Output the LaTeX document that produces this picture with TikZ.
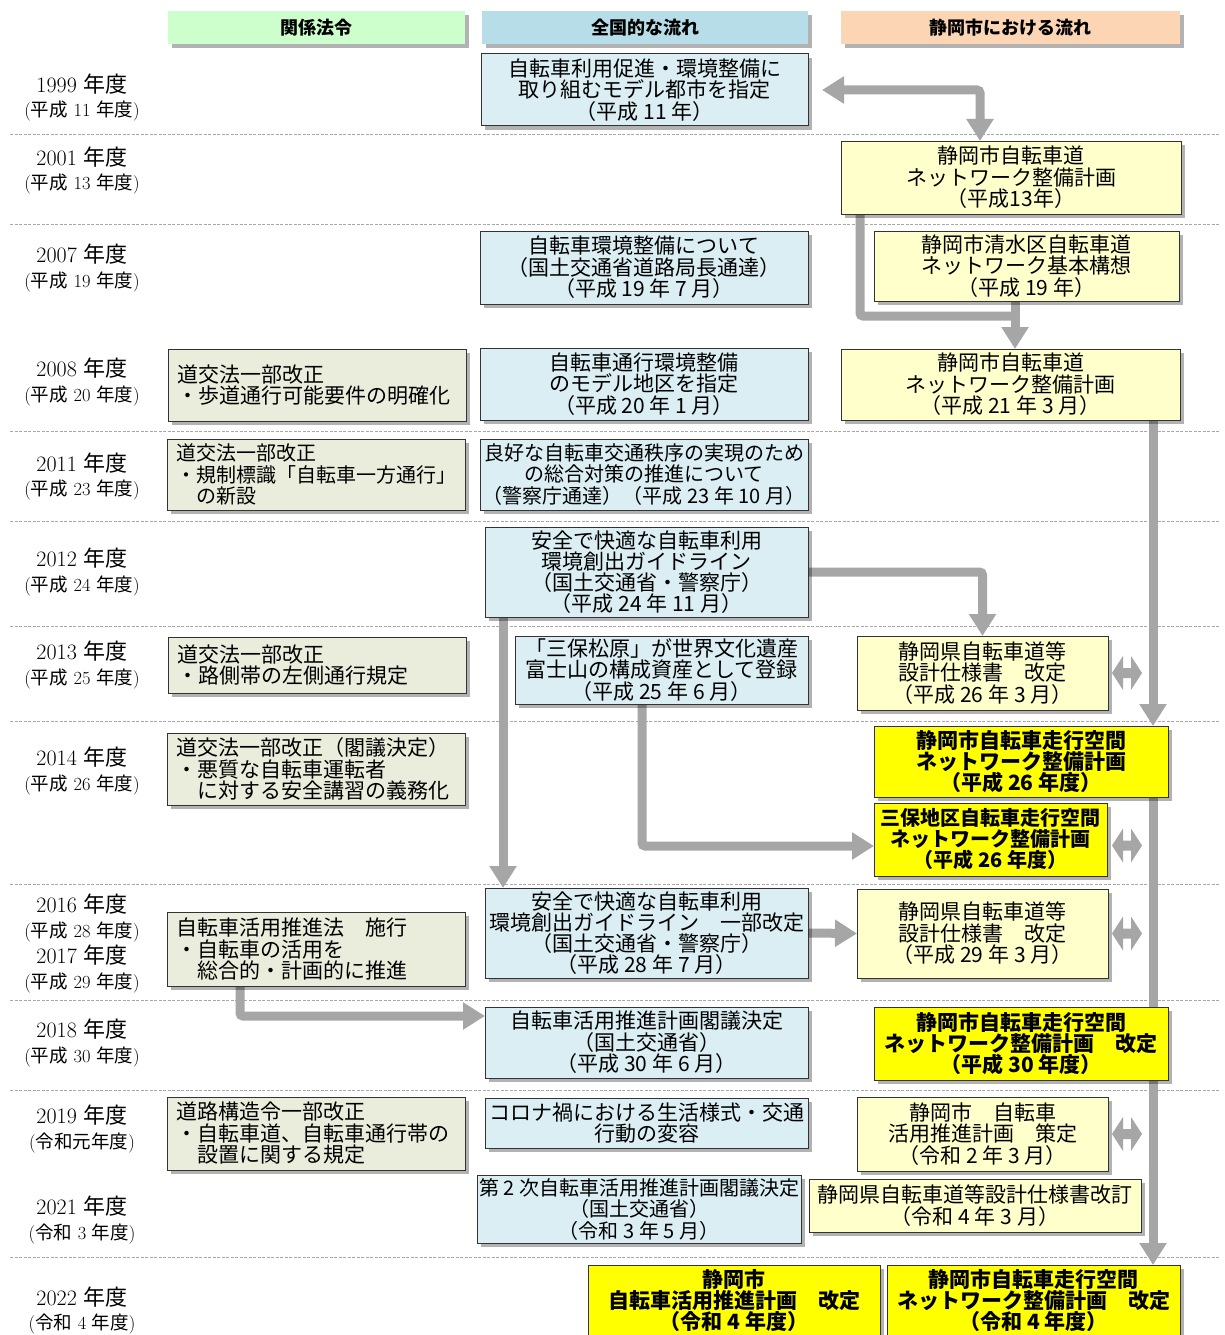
\documentclass[tikz,border=0pt]{standalone}
\usepackage{fontspec}
\newfontfamily\jp{Noto Sans CJK JP}
\usetikzlibrary{arrows.meta,shadows}
\definecolor{hgreen}{HTML}{CCFFCC}
\definecolor{hblue}{HTML}{B7DDE8}
\definecolor{hpeach}{HTML}{FCD5B4}
\definecolor{lawc}{HTML}{EBEDDC}
\definecolor{natc}{HTML}{DAEEF3}
\definecolor{cityc}{HTML}{FFFFCC}
\definecolor{keyc}{HTML}{FFFF00}
\definecolor{agray}{HTML}{A6A6A6}
\definecolor{dgray}{HTML}{A8A8A8}
\newcommand\J[1]{{\jp #1}}
\pgfdeclarelayer{bg}
\pgfsetlayers{bg,main}
\tikzset{
  gtip/.tip={Triangle[width=26pt,length=22pt]},
  shad/.style={drop shadow={shadow xshift=4pt,shadow yshift=-4pt,fill=black,opacity=0.3}},
  box/.style={draw=black!80,line width=1pt,inner xsep=2pt,inner ysep=2pt,outer sep=0pt,
    anchor=north west,align=center,shad,font=\jp\fontsize{21}{21.5}\selectfont},
  law/.style={box,fill=lawc,align=left,inner xsep=9pt,text width=280pt,minimum width=298pt},
  nat/.style={box,fill=natc},
  city/.style={box,fill=cityc},
  key/.style={box,fill=keyc,font=\jp\bfseries\fontsize{21}{21}\selectfont},
  head/.style={fill=#1,anchor=north west,inner sep=0pt,outer sep=0pt,minimum height=33pt,shad,
    font=\jp\bfseries\fontsize{18}{18}\selectfont},
  yr/.style={font=\fontsize{22}{22}\selectfont,inner sep=0pt},
  yrs/.style={font=\fontsize{18.5}{18.5}\selectfont,inner sep=0pt},
  dashline/.style={draw=dgray,line width=0.8pt,dash pattern=on 3pt off 1.5pt},
  gline/.style={draw=agray,line width=9pt,rounded corners=3pt},
  garrow/.style={gline,-gtip},
  dblarrow/.pic={\fill[agray] (-15,0) -- (-4,-17) -- (-4,-5) -- (4,-5) -- (4,-17) -- (15,0)
     -- (4,17) -- (4,5) -- (-4,5) -- (-4,17) -- cycle;}
}
\begin{document}
\begin{tikzpicture}[x=1pt,y=-1pt]
\useasboundingbox (0,0) rectangle (1224,1335);
\begin{pgfonlayer}{bg}
\fill[white] (0,0) rectangle (1224,1335);
\foreach \yy in {134,224,431,521,626,721,884,1000,1090,1257}
  \draw[dashline] (10,\yy) -- (1220,\yy);
\end{pgfonlayer}

% headers
\node[head=hgreen,minimum width=297pt] (hA) at (168,11) {関係法令};
\node[head=hblue,minimum width=326pt] (hB) at (482,11) {全国的な流れ};
\node[head=hpeach,minimum width=339pt] (hC) at (841,11) {静岡市における流れ};

% year labels
\node[yr] (y1999) at (82,84) {1999 \J{年度}};
\node[yrs] (s1999) at (82,111) {(\J{平成} 11 \J{年度})};
\node[yr] (y2001) at (82,157) {2001 \J{年度}};
\node[yrs] (s2001) at (82,184) {(\J{平成} 13 \J{年度})};
\node[yr] (y2007) at (82,254) {2007 \J{年度}};
\node[yrs] (s2007) at (82,282) {(\J{平成} 19 \J{年度})};
\node[yr] (y2008) at (82,368) {2008 \J{年度}};
\node[yrs] (s2008) at (82,396) {(\J{平成} 20 \J{年度})};
\node[yr] (y2011) at (82,463) {2011 \J{年度}};
\node[yrs] (s2011) at (82,490) {(\J{平成} 23 \J{年度})};
\node[yr] (y2012) at (82,558) {2012 \J{年度}};
\node[yrs] (s2012) at (82,586) {(\J{平成} 24 \J{年度})};
\node[yr] (y2013) at (82,651) {2013 \J{年度}};
\node[yrs] (s2013) at (82,679) {(\J{平成} 25 \J{年度})};
\node[yr] (y2014) at (82,757) {2014 \J{年度}};
\node[yrs] (s2014) at (82,785) {(\J{平成} 26 \J{年度})};
\node[yr] (y2016) at (82,904) {2016 \J{年度}};
\node[yrs] (s2016) at (82,932) {(\J{平成} 28 \J{年度})};
\node[yr] (y2017) at (82,955) {2017 \J{年度}};
\node[yrs] (s2017) at (82,983) {(\J{平成} 29 \J{年度})};
\node[yr] (y2018) at (82,1029) {2018 \J{年度}};
\node[yrs] (s2018) at (82,1057) {(\J{平成} 30 \J{年度})};
\node[yr] (y2019) at (82,1115) {2019 \J{年度}};
\node[yrs] (s2019) at (82,1143) {(\J{令和元年度})};
\node[yr] (y2021) at (82,1206) {2021 \J{年度}};
\node[yrs] (s2021) at (82,1234) {(\J{令和} 3 \J{年度})};
\node[yr] (y2022) at (82,1297) {2022 \J{年度}};
\node[yrs] (s2022) at (82,1324) {(\J{令和} 4 \J{年度})};

% law column
\node[law,minimum height=72pt] (lA) at (168,349) {道交法一部改正\\・歩道通行可能要件の明確化};
\node[law,minimum height=71pt,font=\jp\fontsize{20}{21.5}\selectfont] (lB) at (167,439) {道交法一部改正\\・規制標識「自転車一方通行」\\　の新設};
\node[law,minimum height=56pt] (lC) at (168,637) {道交法一部改正\\・路側帯の左側通行規定};
\node[law,minimum height=72pt] (lD) at (167,733) {道交法一部改正（閣議決定）\\・悪質な自転車運転者\\　に対する安全講習の義務化};
\node[law,minimum height=74pt] (lE) at (167,912) {自転車活用推進法　施行\\・自転車の活用を\\　総合的・計画的に推進};
\node[law,minimum height=73pt] (lF) at (167,1097) {道路構造令一部改正\\・自転車道、自転車通行帯の\\　設置に関する規定};

% national column
\node[nat,minimum width=327pt,minimum height=72pt] (mA) at (481,54) {自転車利用促進・環境整備に\\取り組むモデル都市を指定\\（平成 11 年）};
\node[nat,minimum width=328pt,minimum height=73pt] (mB) at (480,231) {自転車環境整備について\\（国土交通省道路局長通達）\\（平成 19 年 7 月）};
\node[nat,minimum width=328pt,minimum height=72pt] (mC) at (480,348) {自転車通行環境整備\\のモデル地区を指定\\（平成 20 年 1 月）};
\node[nat,minimum width=328pt,minimum height=71pt,font=\jp\fontsize{20}{21.5}\selectfont] (mD) at (480,439) {良好な自転車交通秩序の実現のため\\の総合対策の推進について\\（警察庁通達）（平成 23 年 10 月）};
\node[nat,minimum width=323pt,minimum height=90pt,font=\jp\fontsize{21}{21}\selectfont] (mE) at (485,527) {安全で快適な自転車利用\\環境創出ガイドライン\\（国土交通省・警察庁）\\（平成 24 年 11 月）};
\node[nat,minimum width=293pt,minimum height=68pt] (mF) at (515,636) {「三保松原」が世界文化遺産\\富士山の構成資産として登録\\（平成 25 年 6 月）};
\node[nat,minimum width=323pt,minimum height=90pt,font=\jp\fontsize{21}{21}\selectfont] (mG) at (485,888) {安全で快適な自転車利用\\環境創出ガイドライン　一部改定\\（国土交通省・警察庁）\\（平成 28 年 7 月）};
\node[nat,minimum width=323pt,minimum height=71pt] (mH) at (485,1007) {自転車活用推進計画閣議決定\\（国土交通省）\\（平成 30 年 6 月）};
\node[nat,minimum width=323pt,minimum height=50pt] (mI) at (485,1098) {コロナ禍における生活様式・交通\\行動の変容};
\node[nat,minimum width=324pt,minimum height=68pt,font=\jp\fontsize{20}{21.5}\selectfont] (mJ) at (477,1175) {第 2 次自転車活用推進計画閣議決定\\（国土交通省）\\（令和 3 年 5 月）};

% city column
\node[city,minimum width=340pt,minimum height=73pt] (rA) at (841,141) {静岡市自転車道\\ネットワーク整備計画\\（平成13年）};
\node[city,minimum width=305pt,minimum height=70pt] (rB) at (874,231) {静岡市清水区自転車道\\ネットワーク基本構想\\（平成 19 年）};
\node[city,minimum width=339pt,minimum height=71pt] (rC) at (841,349) {静岡市自転車道\\ネットワーク整備計画\\（平成 21 年 3 月）};
\node[city,minimum width=251pt,minimum height=74pt] (rD) at (857,636) {静岡県自転車道等\\設計仕様書　改定\\（平成 26 年 3 月）};
\node[key,minimum width=294pt,minimum height=71pt] (rE) at (874,726) {静岡市自転車走行空間\\ネットワーク整備計画\\（平成 26 年度）};
\node[key,minimum width=233pt,minimum height=73pt,font=\jp\bfseries\fontsize{20}{21}\selectfont] (rF) at (874,803) {三保地区自転車走行空間\\ネットワーク整備計画\\（平成 26 年度）};
\node[city,minimum width=251pt,minimum height=89pt] (rG) at (857,889) {静岡県自転車道等\\設計仕様書　改定\\（平成 29 年 3 月）};
\node[key,minimum width=294pt,minimum height=73pt] (rH) at (874,1007) {静岡市自転車走行空間\\ネットワーク整備計画　改定\\（平成 30 年度）};
\node[city,minimum width=251pt,minimum height=74pt] (rI) at (857,1097) {静岡市　自転車\\活用推進計画　策定\\（令和 2 年 3 月）};
\node[city,minimum width=332pt,minimum height=53pt] (rJ) at (809,1179) {静岡県自転車道等設計仕様書改訂\\（令和 4 年 3 月）};
\node[key,minimum width=292pt,minimum height=72pt] (rK) at (588,1265) {静岡市\\自転車活用推進計画　改定\\（令和 4 年度）};
\node[key,minimum width=293pt,minimum height=72pt] (rL) at (887,1265) {静岡市自転車走行空間\\ネットワーク整備計画　改定\\（令和 4 年度）};

% connectors
\coordinate (xA) at (980,0);
\coordinate (kA) at (860,316);
\coordinate (kB) at (1015,316);
\coordinate (xD) at (1153,0);
\coordinate (xF) at (503,0);
\coordinate (xG) at (642,846);
\coordinate (xH) at (240,1016);
\begin{pgfonlayer}{bg}
\draw[gline,gtip-gtip] ([xshift=14pt]mA.east) -| (rA.north -| xA);
\draw[gline] (rA.south -| kA) -- (kA) -- (kB);
\draw[garrow] (rB.south -| kB) -- (rC.north -| kB);
\draw[garrow] (rC.south -| xD) -- (rE.north -| xD);
\draw[garrow] (rE.south -| xD) -- (rL.north -| xD);
\draw[garrow] (mE.east) -| (rD.north);
\draw[garrow] (mE.south -| xF) -- (mG.north -| xF);
\draw[garrow] (mF.south -| xG) |- (rF.west |- xG);
\draw[garrow] (mG.east) -- (rG.west);
\draw[garrow] (lE.south -| xH) |- (mH.west |- xH);
\end{pgfonlayer}

% double arrows
\pic at ([xshift=19pt]rD.east) {dblarrow};
\pic at ([xshift=20pt,yshift=-6pt]rF.east) {dblarrow};
\pic at ([xshift=19pt]rG.east) {dblarrow};
\pic at ([xshift=19pt]rI.east) {dblarrow};
\end{tikzpicture}
\end{document}
